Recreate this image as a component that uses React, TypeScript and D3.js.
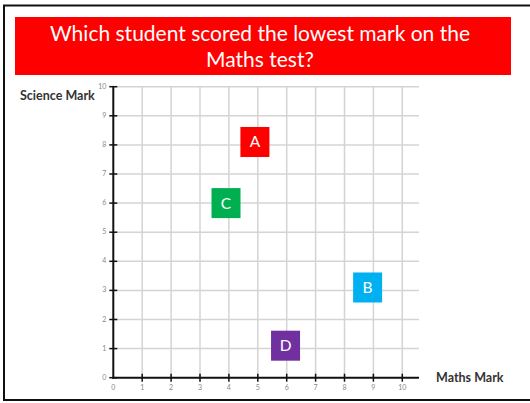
import { scaleLinear, range } from 'd3';

const width = 530;
const height = 403;

// students: label, maths mark, science mark, colour (marks as placed in the picture)
const students = ['A', 'B', 'C', 'D'];
const mathsMarks = [4.9, 8.8, 3.9, 5.96];
const scienceMarks = [8.1, 3.1, 6.0, 1.1];
const colours = ['#ff0000', '#00b0f0', '#00b050', '#7030a0'];

const tickValues = range(0, 11);
const titleLines = ['Which student scored the lowest mark on the', 'Maths test?'];

const x = scaleLinear().domain([0, 10]).range([113.3, 402.3]);
const y = scaleLinear().domain([0, 10]).range([377.7, 86.7]);
const gridRight = 419;

export default function App() {
  const boxW = 29;
  const boxH = 30;
  return (
    <svg
      width={width}
      height={height}
      style={{ position: 'absolute', left: 0, top: 0, background: '#fff' }}
    >
      {/* frame */}
      <line x1={4} x2={4} y1={5} y2={401} stroke="#111" strokeWidth={2} />
      <line x1={3} x2={width} y1={5.5} y2={5.5} stroke="#111" strokeWidth={2} />
      <line x1={3} x2={width} y1={400} y2={400} stroke="#111" strokeWidth={2} />

      {/* title banner */}
      <rect x={15} y={17} width={496} height={58} fill="#ff0000" />
      {titleLines.map((t, i) => (
        <text
          key={t}
          x={260}
          y={41 + i * 26}
          textAnchor="middle"
          fill="#fff"
          fontFamily="Lato, 'Open Sans', sans-serif"
          fontSize={21}
        >
          {t}
        </text>
      ))}

      {/* grid */}
      {tickValues.slice(1).map((v) => (
        <line key={'gx' + v} x1={x(v)} x2={x(v)} y1={y(10)} y2={y(0)} stroke="#d4d4d4" strokeWidth={1.5} />
      ))}
      {tickValues.slice(1).map((v) => (
        <line key={'gy' + v} x1={x(0)} x2={gridRight} y1={y(v)} y2={y(v)} stroke="#d4d4d4" strokeWidth={1.5} />
      ))}

      {/* axes */}
      <line x1={x(0)} x2={x(0)} y1={y(10)} y2={y(0) + 1} stroke="#111" strokeWidth={2} />
      <line x1={x(0) - 1} x2={gridRight} y1={y(0)} y2={y(0)} stroke="#111" strokeWidth={2} />
      {tickValues.map((v) => (
        <g key={'tx' + v}>
          {v > 0 && (
            <line x1={x(v)} x2={x(v)} y1={y(0) - 4} y2={y(0) + 4} stroke="#111" strokeWidth={1.5} />
          )}
          <text
            x={x(v)}
            y={y(0) + 12}
            textAnchor="middle"
            fontSize={7}
            fill="#888"
            fontFamily="Lato, sans-serif"
          >
            {v}
          </text>
        </g>
      ))}
      {tickValues.map((v) => (
        <g key={'ty' + v}>
          <line x1={x(0) - 4} x2={x(0) + 4} y1={y(v)} y2={y(v)} stroke="#111" strokeWidth={1.5} />
          <text
            x={x(0) - 7}
            y={y(v) + 2}
            textAnchor="end"
            fontSize={7}
            fill="#888"
            fontFamily="Lato, sans-serif"
          >
            {v}
          </text>
        </g>
      ))}

      {/* axis titles */}
      <text x={20} y={100} fontSize={12.5} fontWeight="bold" fill="#333" fontFamily="Lato, 'Open Sans', sans-serif">
        Science Mark
      </text>
      <text x={436} y={382} fontSize={12.5} fontWeight="bold" fill="#333" fontFamily="Lato, 'Open Sans', sans-serif">
        Maths Mark
      </text>

      {/* student boxes */}
      {students.map((s, i) => (
        <g key={s}>
          <rect
            x={x(mathsMarks[i]) - boxW / 2}
            y={y(scienceMarks[i]) - boxH / 2}
            width={boxW}
            height={boxH}
            fill={colours[i]}
          />
          <text
            x={x(mathsMarks[i])}
            y={y(scienceMarks[i]) + 5.5}
            textAnchor="middle"
            fill="#fff"
            fontSize={15.5}
            fontFamily="Lato, 'Open Sans', sans-serif"
          >
            {s}
          </text>
        </g>
      ))}
    </svg>
  );
}
